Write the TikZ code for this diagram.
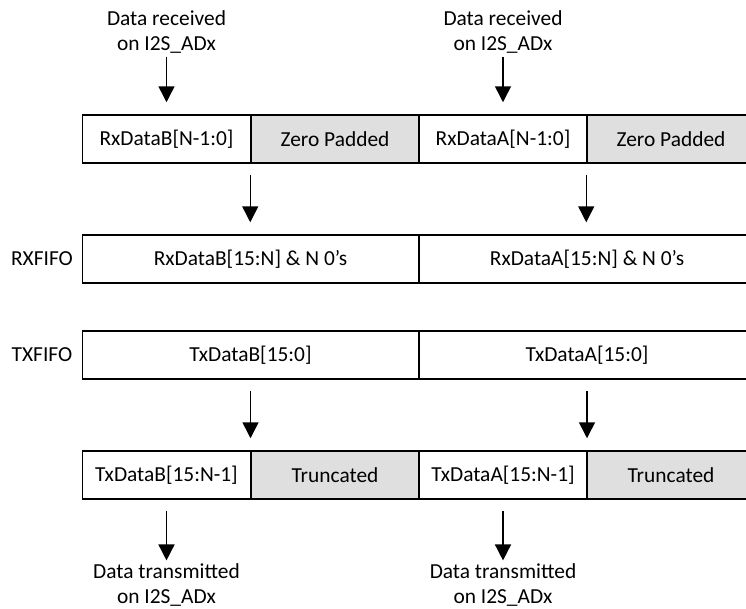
\documentclass[tikz,border=0pt]{standalone}
\usepackage{fontspec}
\setmainfont{Carlito}
\usetikzlibrary{arrows.meta}
\definecolor{padgray}{HTML}{DFDFDF}
\newcommand{\sq}{{\char"27}}
\begin{document}
\begin{tikzpicture}[x={(1pt,0)}, y={(0,-1pt)},
  every node/.style={font=\fontsize{21.4}{25}\selectfont},
  cell/.style={draw, line width=1.5pt, minimum height=48pt, inner sep=0pt, anchor=center},
  halfcell/.style={cell, minimum width=168pt},
  fullcell/.style={cell, minimum width=336pt},
  pad/.style={fill=padgray},
  lbl/.style={align=center, inner sep=0pt},
  flow/.style={line width=1.5pt, -{Triangle[length=16pt,width=16pt]}},
  cellflow/.style={flow, shorten <=11pt, shorten >=12pt}]
\useasboundingbox (0,0) rectangle (746,608);
\begin{scope}
\clip (0,0) rectangle (746,608);
% top row
\node[halfcell] (rxb) at (166.5,139) {RxDataB[N-1:0]};
\node[halfcell,pad] (zpb) at (335,139) {Zero Padded};
\node[halfcell] (rxa) at (503,139) {RxDataA[N-1:0]};
\node[halfcell,pad] (zpa) at (671,139) {Zero Padded};
% RXFIFO row
\node[fullcell] (rxfb) at (250.5,259) {RxDataB[15:N] \& N 0\sq s};
\node[fullcell] (rxfa) at (587,259) {RxDataA[15:N] \& N 0\sq s};
% TXFIFO row
\node[fullcell] (txfb) at (250.5,355) {TxDataB[15:0]};
\node[fullcell] (txfa) at (587,355) {TxDataA[15:0]};
% bottom row
\node[halfcell] (txb) at (166.5,475) {TxDataB[15:N-1]};
\node[halfcell,pad] (trb) at (335,475) {Truncated};
\node[halfcell] (txa) at (503,475) {TxDataA[15:N-1]};
\node[halfcell,pad] (tra) at (671,475) {Truncated};
\end{scope}
% side labels
\node (rxlbl) at (42,259) {RXFIFO};
\node (txlbl) at (42,355) {TXFIFO};
% top text
\node[lbl] (inb) at (166.5,32) {Data received\\on I2S\_ADx};
\node[lbl] (ina) at (503,32) {Data received\\on I2S\_ADx};
% bottom text
\node[lbl] (outb) at (166.5,585) {Data transmitted\\on I2S\_ADx};
\node[lbl] (outa) at (503,585) {Data transmitted\\on I2S\_ADx};
% arrows
\draw[flow, shorten <=3pt, shorten >=12pt] (inb.south) -- (rxb.north);
\draw[flow, shorten <=3pt, shorten >=12pt] (ina.south) -- (rxa.north);
\draw[cellflow] (zpb.south west) -- (zpb.south west |- rxfb.north);
\draw[cellflow] (zpa.south west) -- (zpa.south west |- rxfa.north);
\draw[cellflow] (txfb.south) -- (txfb.south |- trb.north);
\draw[cellflow] (txfa.south) -- (txfa.south |- tra.north);
\draw[flow, shorten <=11pt, shorten >=3pt] (txb.south) -- (outb.north);
\draw[flow, shorten <=11pt, shorten >=3pt] (txa.south) -- (outa.north);
\end{tikzpicture}
\end{document}
